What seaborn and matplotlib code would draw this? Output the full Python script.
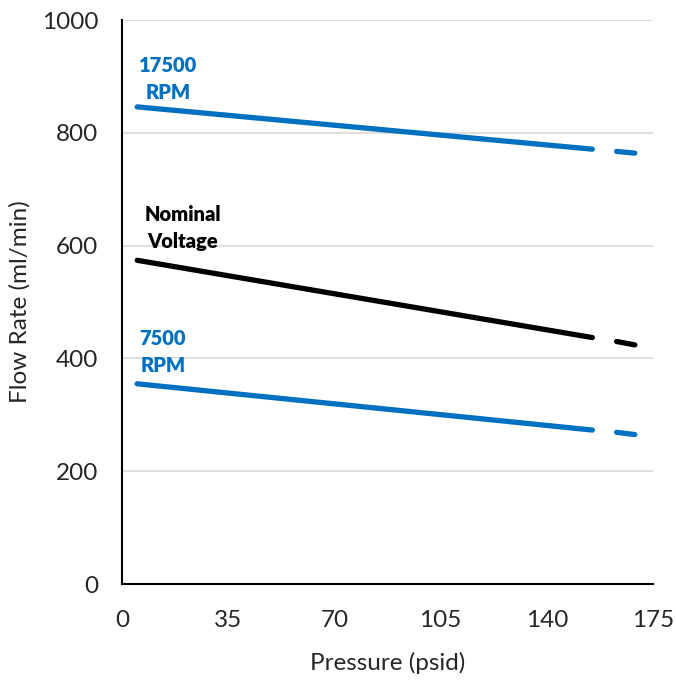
import matplotlib
matplotlib.use("Agg")
import matplotlib.pyplot as plt
import seaborn as sns
import pandas as pd

sns.set_style("white")
plt.rcParams['font.family'] = ['Lato', 'DejaVu Sans']

series = ["17500 RPM", "Nominal Voltage", "7500 RPM"]
colors = ["#0070C0", "#000000", "#0070C0"]
solid_x = [5, 155]
dash_x = [163, 169]
solid_y = {"17500 RPM": [846, 771], "Nominal Voltage": [574, 437], "7500 RPM": [355, 273]}
dash_y = {"17500 RPM": [767, 764], "Nominal Voltage": [430, 424], "7500 RPM": [269, 265]}
labels = {"17500 RPM": ("17500\nRPM", 15.2, 896), "Nominal Voltage": ("Nominal\nVoltage", 20.1, 632), "7500 RPM": ("7500\nRPM", 13.5, 411)}
x_ticks = [0, 35, 70, 105, 140, 175]
y_ticks = [0, 200, 400, 600, 800, 1000]

fig = plt.figure(figsize=(6.76, 6.81), dpi=100)
ax = fig.add_axes([0.1805, 0.1424, 0.7855, 0.8282])

for s, c in zip(series, colors):
    d1 = pd.DataFrame({"x": solid_x, "y": solid_y[s]})
    d2 = pd.DataFrame({"x": dash_x, "y": dash_y[s]})
    sns.lineplot(data=d1, x="x", y="y", ax=ax, color=c, lw=3.8, solid_capstyle="round")
    sns.lineplot(data=d2, x="x", y="y", ax=ax, color=c, lw=3.8, solid_capstyle="round")
    txt, tx, ty = labels[s]
    ax.text(tx, ty, txt, color=c, fontsize=14.5, fontweight="heavy", ha="center", va="center",
            linespacing=1.5)

ax.set_xlim(0, 175)
ax.set_ylim(0, 1000)
ax.set_xticks(x_ticks)
ax.set_yticks(y_ticks)
ax.tick_params(axis="x", direction="in", length=5, width=1.2, color="black", labelsize=17.5, pad=19)
ax.tick_params(axis="y", length=0, labelsize=17.5, pad=17)
ax.grid(axis="y", color="#D9D9D9", lw=1.2)
ax.set_axisbelow(True)
for sp in ["top", "right"]:
    ax.spines[sp].set_visible(False)
for sp in ["left", "bottom"]:
    ax.spines[sp].set_color("black")
    ax.spines[sp].set_linewidth(1.5)
ax.set_xlabel("Pressure (psid)", fontsize=17.5, labelpad=15)
ax.set_ylabel("Flow Rate (ml/min)", fontsize=17.5, labelpad=8)

fig.savefig("out.png", dpi=100)
